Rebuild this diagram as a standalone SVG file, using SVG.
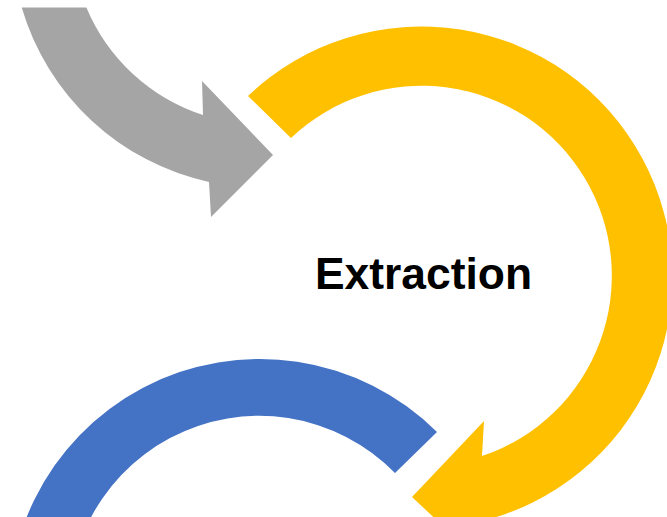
<svg xmlns="http://www.w3.org/2000/svg" width="667" height="517" viewBox="0 0 667 517">
<style>
.gray{fill:#A5A5A5}
.yellow{fill:#FFC000}
.blue{fill:#4472C4}
.label{font-family:"Liberation Sans",Arial,sans-serif;font-weight:bold;font-size:45px;fill:#000}
</style>
<rect width="667" height="517" fill="#FFFFFF"/>
<g id="connectors">
<g id="arrow-gray">
<path class="gray" d="M 21.7 7.5 A 251 251 0 0 0 209 182 L 211 217 L 273 155 L 202 81 L 203 115 A 190 190 0 0 1 86.4 7.5 Z"/>
</g>
<g id="arrow-yellow">
<path class="yellow" d="M 248 96 A 251 251 0 1 1 478 522 L 476 557 L 412 497 L 484 421 L 482 456 A 190 190 0 1 0 291 138 Z"/>
</g>
<g id="arrow-blue">
<path class="blue" d="M 437 432 A 251 251 0 0 0 13 655 L 73 644 A 190 190 0 0 1 395 473 Z"/>
</g>
</g>
<g id="node-extraction">
<text class="label" x="423.5" y="289" text-anchor="middle" textLength="217" lengthAdjust="spacingAndGlyphs">Extraction</text>
</g>
</svg>
